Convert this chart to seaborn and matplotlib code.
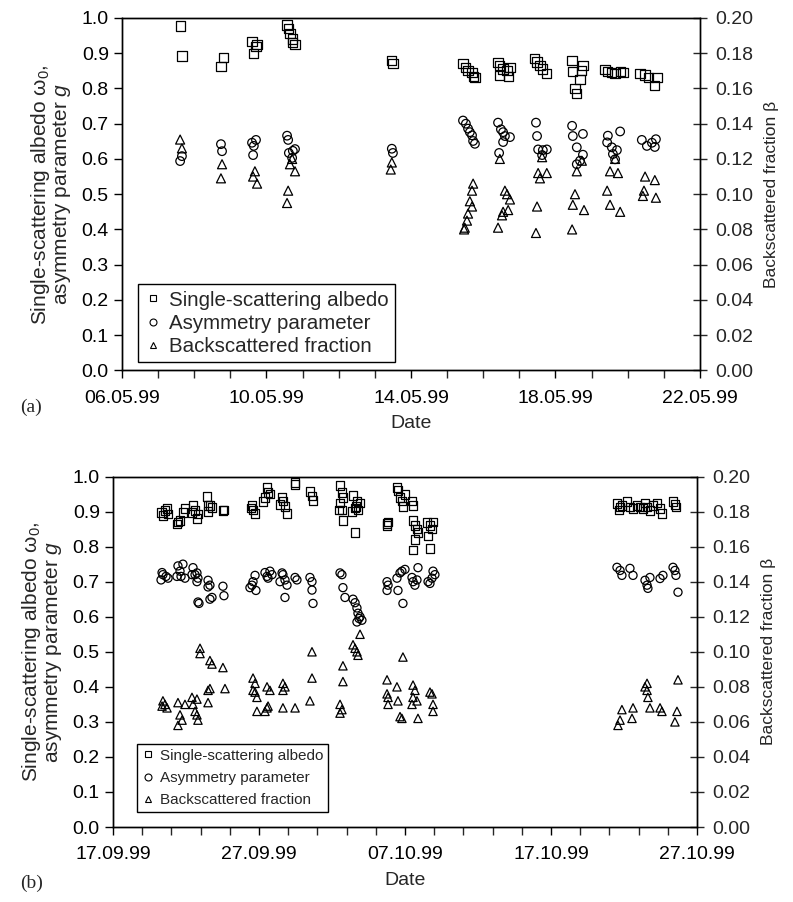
import numpy as np
import pandas as pd
import matplotlib
matplotlib.use("Agg")
import matplotlib.pyplot as plt
import matplotlib.dates as mdates
from matplotlib.ticker import MultipleLocator, FormatStrFormatter, FixedLocator
import seaborn as sns

# ---- panel (a): May 1999, x = days after 06.05.99 ----
a_start = "1999-05-06"
a_ssa_day = [1.61, 1.66, 2.74, 2.80, 3.60, 3.71, 3.65, 3.74, 4.57, 4.60, 4.65, 4.71, 4.73, 4.79,
             7.47, 7.50,
             9.44, 9.52, 9.58, 9.69, 9.72, 9.77,
             10.41, 10.46, 10.55, 10.66, 10.74, 10.44, 10.69,
             11.43, 11.49, 11.57, 11.65, 11.76,
             12.46, 12.76, 12.73, 12.48, 12.68, 12.54, 12.59,
             13.37, 13.45, 13.56, 13.65, 13.79, 13.87,
             14.34, 14.48, 14.57, 14.81, 14.75]
a_ssa = [0.977, 0.892, 0.863, 0.887, 0.934, 0.920, 0.900, 0.925, 0.980, 0.970, 0.955, 0.940, 0.930, 0.925,
         0.880, 0.870,
         0.871, 0.860, 0.850, 0.846, 0.834, 0.830,
         0.874, 0.865, 0.855, 0.850, 0.860, 0.837, 0.835,
         0.886, 0.875, 0.865, 0.855, 0.843,
         0.880, 0.866, 0.852, 0.849, 0.826, 0.800, 0.786,
         0.853, 0.848, 0.845, 0.842, 0.848, 0.845,
         0.843, 0.838, 0.830, 0.831, 0.809]

a_g_day = [1.61, 1.66, 2.74, 2.77, 3.60, 3.71, 3.65, 3.63,
           4.57, 4.60, 4.62, 4.73, 4.71, 4.79, 7.47, 7.50,
           9.44, 9.52, 9.58, 9.63, 9.69, 9.72, 9.77,
           10.41, 10.49, 10.55, 10.60, 10.74, 10.55, 10.44,
           11.46, 11.49, 11.52, 11.65, 11.76, 11.63,
           12.46, 12.48, 12.76, 12.59, 12.76, 12.59, 12.68,
           13.45, 13.79, 13.43, 13.56, 13.59, 13.65, 13.70,
           14.39, 14.53, 14.67, 14.78, 14.75]
a_g = [0.594, 0.608, 0.642, 0.622, 0.646, 0.654, 0.637, 0.611,
       0.666, 0.654, 0.617, 0.623, 0.603, 0.628, 0.629, 0.617,
       0.709, 0.700, 0.686, 0.676, 0.667, 0.651, 0.643,
       0.703, 0.684, 0.676, 0.665, 0.662, 0.648, 0.617,
       0.703, 0.665, 0.627, 0.625, 0.627, 0.611,
       0.694, 0.665, 0.671, 0.633, 0.612, 0.585, 0.595,
       0.666, 0.678, 0.647, 0.633, 0.614, 0.599, 0.625,
       0.654, 0.637, 0.646, 0.656, 0.634]

a_beta_day = [1.61, 1.66, 2.77, 2.74, 3.68, 3.63, 3.74,
              4.60, 4.57, 4.65, 4.79, 4.71, 7.47, 7.44,
              9.72, 9.69, 9.63, 9.69, 9.58, 9.55, 9.47, 9.49,
              10.46, 10.60, 10.66, 10.74, 10.69, 10.55, 10.52, 10.41,
              11.63, 11.52, 11.76, 11.57, 11.49, 11.46,
              12.73, 12.59, 12.54, 12.48, 12.79, 12.46,
              13.65, 13.51, 13.73, 13.43, 13.51, 13.79,
              14.48, 14.75, 14.45, 14.42, 14.78]
a_beta = [0.131, 0.126, 0.117, 0.109, 0.113, 0.110, 0.106,
          0.102, 0.095, 0.117, 0.113, 0.120, 0.118, 0.114,
          0.106, 0.102, 0.096, 0.093, 0.089, 0.085, 0.080, 0.081,
          0.120, 0.102, 0.100, 0.097, 0.091, 0.090, 0.088, 0.081,
          0.121, 0.112, 0.112, 0.109, 0.093, 0.078,
          0.119, 0.113, 0.100, 0.094, 0.091, 0.080,
          0.120, 0.113, 0.112, 0.102, 0.094, 0.090,
          0.110, 0.108, 0.102, 0.099, 0.098]

# ---- panel (b): Sep/Oct 1999, x = days after 17.09.99 ----
b_start = "1999-09-17"
b_ssa_day = [3.34, 3.56, 3.77, 3.42, 3.70, 4.45, 4.59, 4.38, 4.93, 4.79,
             5.48, 5.62, 5.82, 5.41, 5.75, 6.44, 6.51, 6.64, 6.78, 6.51, 7.53, 7.60,
             9.52, 9.59, 9.73, 9.45, 10.55, 10.62, 10.41, 10.75, 10.27,
             11.58, 11.64, 11.78, 11.92, 11.44, 12.47, 12.47, 13.49, 13.63, 13.70,
             15.55, 15.68, 15.75, 15.55, 15.68, 15.75, 15.48,
             16.44, 16.71, 16.58, 16.78, 16.37, 16.92, 16.58, 16.64,
             18.77, 18.84, 18.77, 19.45, 19.52, 19.66, 19.79, 19.86, 20.00, 20.48, 20.55,
             20.55, 20.68, 20.82, 20.89, 20.68, 20.55,
             21.51, 21.71, 21.85, 21.92, 21.58, 21.71,
             34.52, 34.73, 34.86, 35.21, 35.41, 35.62, 35.89, 36.10, 36.30, 36.58,
             36.78, 36.99, 37.26, 37.47, 37.60, 38.36, 38.56, 38.49, 34.66, 36.44]
b_ssa = [0.898, 0.903, 0.893, 0.889, 0.908, 0.870, 0.875, 0.865, 0.908, 0.898,
         0.917, 0.903, 0.893, 0.898, 0.880, 0.943, 0.917, 0.917, 0.912, 0.900, 0.903, 0.905,
         0.917, 0.905, 0.895, 0.910, 0.969, 0.955, 0.940, 0.950, 0.929,
         0.940, 0.930, 0.915, 0.895, 0.920, 0.983, 0.978, 0.957, 0.945, 0.932,
         0.975, 0.955, 0.940, 0.925, 0.905, 0.875, 0.905,
         0.946, 0.930, 0.910, 0.905, 0.900, 0.925, 0.840, 0.915,
         0.866, 0.870, 0.860, 0.969, 0.960, 0.940, 0.930, 0.915, 0.948, 0.930, 0.917,
         0.875, 0.860, 0.850, 0.840, 0.820, 0.790,
         0.869, 0.860, 0.850, 0.870, 0.830, 0.795,
         0.923, 0.913, 0.918, 0.928, 0.913, 0.908, 0.918, 0.913, 0.908, 0.913,
         0.903, 0.918, 0.925, 0.908, 0.894, 0.928, 0.913, 0.920, 0.905, 0.925]

b_g_day = [3.36, 3.42, 3.63, 3.77, 3.29, 4.45, 4.59, 4.79, 4.66, 4.38, 4.93,
           5.48, 5.62, 5.75, 5.82, 5.41, 5.75, 5.89, 5.82,
           6.51, 6.64, 6.51, 6.78, 6.64, 7.53, 7.60,
           9.38, 9.52, 9.59, 9.73, 9.79, 10.41, 10.55, 10.62, 10.75, 10.89,
           11.44, 11.58, 11.64, 11.78, 11.92, 11.78, 12.47, 12.60,
           13.49, 13.63, 13.63, 13.70, 15.55, 15.68, 15.75, 15.89,
           16.44, 16.58, 16.71, 16.78, 16.92, 17.05, 16.71, 16.85,
           18.77, 18.84, 18.77, 19.45, 19.52, 19.66, 19.79, 19.86, 20.00,
           20.48, 20.55, 20.68, 20.82, 20.89, 21.58, 21.71, 21.85, 21.92, 22.05,
           34.52, 34.73, 34.86, 35.41, 35.62, 36.44, 36.58, 36.64, 36.78,
           37.47, 37.67, 38.36, 38.49, 38.56, 38.70]
b_g = [0.726, 0.720, 0.715, 0.710, 0.705, 0.745, 0.730, 0.750, 0.715, 0.715, 0.710,
       0.740, 0.720, 0.725, 0.710, 0.720, 0.700, 0.638, 0.642,
       0.704, 0.690, 0.685, 0.655, 0.650, 0.687, 0.660,
       0.683, 0.690, 0.700, 0.718, 0.675, 0.726, 0.715, 0.710, 0.730, 0.720,
       0.700, 0.725, 0.720, 0.705, 0.690, 0.655, 0.712, 0.705,
       0.712, 0.700, 0.676, 0.638, 0.725, 0.720, 0.683, 0.655,
       0.650, 0.640, 0.625, 0.610, 0.600, 0.590, 0.585, 0.595,
       0.700, 0.690, 0.675, 0.710, 0.675, 0.725, 0.730, 0.638, 0.735,
       0.712, 0.700, 0.690, 0.705, 0.740, 0.700, 0.695, 0.710, 0.730, 0.720,
       0.741, 0.732, 0.718, 0.738, 0.718, 0.704, 0.690, 0.681, 0.712,
       0.709, 0.718, 0.741, 0.732, 0.718, 0.670]

b_beta_day = [3.42, 3.56, 3.70, 3.36, 4.45, 4.59, 4.73, 4.45, 4.93,
              5.41, 5.48, 5.62, 5.75, 5.82, 5.75, 5.96, 5.96,
              6.64, 6.78, 7.53, 6.51, 6.64, 6.51, 7.67,
              9.59, 9.73, 9.59, 9.73, 9.86, 9.86, 10.41, 10.55, 10.75, 10.55, 10.62,
              11.64, 11.78, 11.64, 11.64, 12.47, 13.63, 13.63, 13.49,
              15.75, 15.75, 15.55, 15.68, 15.55, 16.44, 16.58, 16.71, 16.78, 16.92,
              19.86, 18.77, 19.45, 18.77, 18.84, 18.84, 19.52, 19.66, 19.79,
              20.55, 20.68, 20.55, 20.48, 20.82, 20.89, 21.71, 21.85, 21.92, 21.92,
              34.86, 34.73, 34.59, 35.62, 35.55, 36.58, 36.58, 36.64, 36.78,
              37.47, 37.60, 38.63, 38.49, 38.70, 36.44]
b_beta = [0.072, 0.070, 0.068, 0.069, 0.071, 0.064, 0.061, 0.058, 0.070,
          0.074, 0.070, 0.066, 0.064, 0.061, 0.073, 0.102, 0.099,
          0.095, 0.093, 0.091, 0.078, 0.079, 0.071, 0.079,
          0.085, 0.082, 0.078, 0.077, 0.074, 0.066, 0.066, 0.080, 0.078, 0.068, 0.069,
          0.082, 0.080, 0.078, 0.068, 0.068, 0.100, 0.085, 0.072,
          0.092, 0.083, 0.070, 0.067, 0.065, 0.104, 0.102, 0.100, 0.098, 0.110,
          0.097, 0.084, 0.080, 0.076, 0.074, 0.070, 0.072, 0.063, 0.062,
          0.081, 0.078, 0.074, 0.070, 0.072, 0.062, 0.077, 0.076, 0.070, 0.066,
          0.067, 0.061, 0.058, 0.068, 0.062, 0.082, 0.078, 0.074, 0.068,
          0.068, 0.066, 0.066, 0.060, 0.084, 0.080]

major_a = ["1999-05-06", "1999-05-10", "1999-05-14", "1999-05-18", "1999-05-22"]
major_b = ["1999-09-17", "1999-09-27", "1999-10-07", "1999-10-17", "1999-10-27"]

labels = ["Single-scattering albedo", "Asymmetry parameter", "Backscattered fraction"]

sns.set_style("ticks")
plt.rcParams["font.family"] = ["Liberation Sans", "DejaVu Sans"]
plt.rcParams["mathtext.fontset"] = "custom"
plt.rcParams["mathtext.rm"] = "Liberation Sans"
plt.rcParams["mathtext.it"] = "Liberation Sans:italic"

fig = plt.figure(figsize=(7.93, 9.02), dpi=100)


def to_dates(start, days):
    return pd.Timestamp(start) + pd.to_timedelta(np.array(days), unit="D")


def panel(rect, start, ssa_d, ssa, g_d, g, b_d, b, majors, minor_step, msize, leg, tag, tag_y):
    ax = fig.add_axes(rect)
    ax2 = ax.twinx()
    kw = dict(facecolor="none", edgecolor="black", linewidth=0.9, legend=False)
    sns.scatterplot(x=to_dates(start, ssa_d), y=ssa, marker="s", s=msize[0], ax=ax, **kw)
    sns.scatterplot(x=to_dates(start, g_d), y=g, marker="o", s=msize[1], ax=ax, **kw)
    sns.scatterplot(x=to_dates(start, b_d), y=b, marker="^", s=msize[2], ax=ax2, **kw)

    lo, hi = pd.Timestamp(majors[0]), pd.Timestamp(majors[-1])
    ax.set_xlim(lo, hi)
    ax.set_ylim(0, 1)
    ax2.set_ylim(0, 0.2)
    ax.xaxis.set_major_locator(FixedLocator(mdates.date2num(pd.to_datetime(majors))))
    ax.xaxis.set_minor_locator(FixedLocator(mdates.date2num(pd.date_range(lo, hi, freq=minor_step))))
    ax.xaxis.set_major_formatter(mdates.DateFormatter("%d.%m.%y"))
    ax.yaxis.set_major_locator(MultipleLocator(0.1))
    ax.yaxis.set_major_formatter(FormatStrFormatter("%.1f"))
    ax2.yaxis.set_major_locator(MultipleLocator(0.02))
    ax2.yaxis.set_major_formatter(FormatStrFormatter("%.2f"))

    ax.tick_params(axis="both", which="major", direction="out", length=6, width=1, labelsize=14, colors="black")
    ax.tick_params(axis="x", which="minor", direction="out", length=6, width=1)
    ax.tick_params(axis="x", labelsize=14, pad=8)
    ax2.tick_params(axis="y", direction="inout", length=10, width=1, labelsize=14, pad=6)
    for a in (ax, ax2):
        for sp in a.spines.values():
            sp.set_visible(True)
            sp.set_linewidth(1)
            sp.set_color("black")

    ax.set_xlabel("Date", fontsize=14, labelpad=6)
    ax.set_ylabel("Single-scattering albedo ω$_0$,\nasymmetry parameter $g$", fontsize=15,
                  linespacing=0.95, labelpad=6)
    ax2.set_ylabel("Backscattered fraction β", fontsize=12.5, labelpad=8)

    fs, spacing, pos = leg
    handles = [plt.Line2D([], [], ls="none", marker=m, mfc="none", mec="black", mew=0.8, ms=5)
               for m in ["s", "o", "^"]]
    lg = ax2.legend(handles, labels, loc="lower left", bbox_to_anchor=pos, borderaxespad=0,
                    fontsize=fs, frameon=True, fancybox=False, framealpha=1,
                    edgecolor="black", handlelength=0.8, handletextpad=0.4,
                    labelspacing=spacing, borderpad=0.3)
    lg.get_frame().set_linewidth(1)
    fig.text(0.025, tag_y, tag, family="Liberation Serif", fontsize=14, va="center")
    return ax


panel([0.1538, 0.5893, 0.7289, 0.3908], a_start, a_ssa_day, a_ssa, a_g_day, a_g, a_beta_day, a_beta,
      major_a, "1D", (44, 38, 42), (14.8, 0.2, (0.028, 0.024)), "(a)", 1 - 407 / 902)
panel([0.1425, 0.0831, 0.7364, 0.3886], b_start, b_ssa_day, b_ssa, b_g_day, b_g, b_beta_day, b_beta,
      major_b, "2D", (38, 34, 36), (11, 0.55, (0.041, 0.043)), "(b)", 1 - 883 / 902)

fig.savefig("out.png", dpi=100)
